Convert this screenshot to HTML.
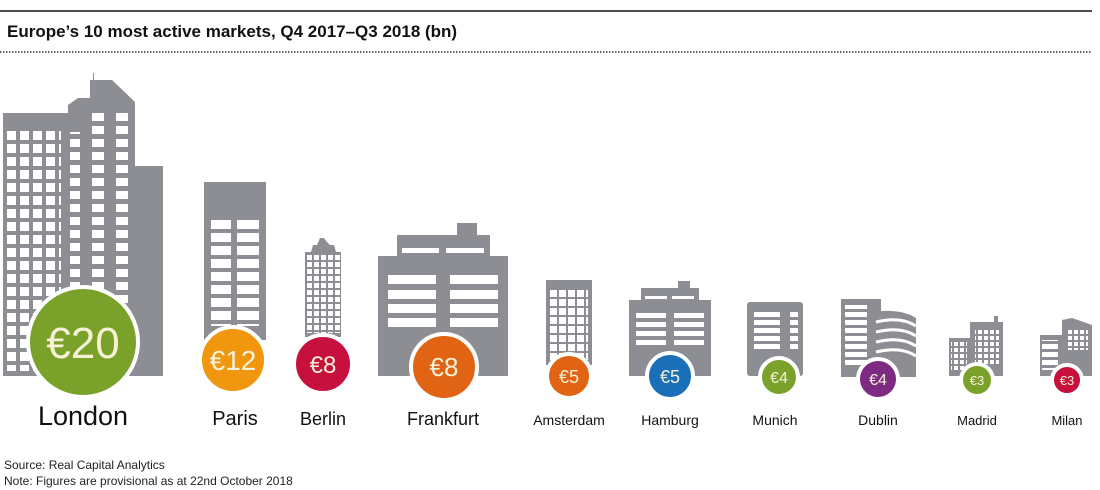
<!DOCTYPE html>
<html><head><meta charset="utf-8"><style>
html,body{margin:0;padding:0;background:#fff;}
svg{display:block;font-family:"Liberation Sans",sans-serif;}
</style></head><body>
<svg width="1100" height="490" viewBox="0 0 1100 490" xmlns="http://www.w3.org/2000/svg">
<defs>
<pattern id="wl" x="7" y="118" width="13" height="13" patternUnits="userSpaceOnUse"><rect width="9" height="9" fill="#fff"/></pattern>
<pattern id="wt" x="0" y="113" width="14" height="13" patternUnits="userSpaceOnUse"><rect width="14" height="8" fill="#fff"/></pattern>
<pattern id="wp" x="0" y="220" width="10" height="13" patternUnits="userSpaceOnUse"><rect width="10" height="9" fill="#fff"/></pattern>
<pattern id="wb" x="307" y="255" width="7" height="7" patternUnits="userSpaceOnUse"><rect width="5" height="5" fill="#fff"/></pattern>
<pattern id="wa" x="550" y="290" width="9" height="9" patternUnits="userSpaceOnUse"><rect width="7" height="7" fill="#fff"/></pattern>
<pattern id="ws" x="0" y="0" width="6" height="6" patternUnits="userSpaceOnUse"><rect width="4" height="4" fill="#fff"/></pattern>
<pattern id="wr" x="0" y="0" width="10" height="8" patternUnits="userSpaceOnUse"><rect width="10" height="5" fill="#fff"/></pattern>
</defs>
<line x1="0" y1="11" x2="1092" y2="11" stroke="#111" stroke-width="1.5"/>
<text x="7" y="37" font-size="17" font-weight="bold" fill="#111">Europe’s 10 most active markets, Q4 2017–Q3 2018 (bn)</text>
<line x1="0" y1="52" x2="1092" y2="52" stroke="#333" stroke-width="1.5" stroke-dasharray="1.5 1.5"/>

<g fill="#8c8e93">
<!-- London -->
<rect x="3" y="113" width="66" height="263"/>
<polygon points="68,376 68,105 78,98 90,98 90,80 112,80 135,102 135,376"/>
<rect x="93" y="73" width="1" height="8"/>
<rect x="135" y="166" width="28" height="210"/>
<!-- Paris -->
<rect x="204" y="182" width="62" height="158"/>
<!-- Berlin -->
<polygon points="305,337 305,252 311,252 313,245 317,245 320,238 324,238 326,241 330,245 334,245 336,252 341,252 341,337"/>
<!-- Frankfurt -->
<rect x="378" y="256" width="130" height="120"/>
<rect x="397" y="235" width="93" height="22"/>
<rect x="457" y="223" width="20" height="13"/>
<!-- Amsterdam -->
<rect x="546" y="280" width="46" height="85"/>
<!-- Hamburg -->
<rect x="629" y="300" width="82" height="76"/>
<rect x="641" y="288" width="58" height="13"/>
<rect x="678" y="281" width="12" height="8"/>
<!-- Munich -->
<rect x="747" y="302" width="56" height="74" rx="3"/>
<!-- Dublin -->
<rect x="841" y="299" width="40" height="78"/>
<path d="M872 312 Q900 308 916 318 L916 377 L872 377Z"/>
<!-- Madrid -->
<rect x="949" y="338" width="22" height="38"/>
<rect x="970" y="322" width="33" height="54"/>
<rect x="994" y="316" width="4" height="6"/>
<!-- Milan -->
<rect x="1040" y="335" width="22" height="41"/>
<polygon points="1062,376 1062,320 1072,318 1092,325 1092,376"/>
</g>
<!-- windows -->
<rect x="7" y="131" width="54" height="240" fill="url(#wl)"/>
<rect x="92" y="113" width="12" height="240" fill="url(#wt)"/>
<rect x="116" y="113" width="12" height="240" fill="url(#wt)"/>
<rect x="70" y="132" width="10" height="200" fill="url(#wt)"/>
<rect x="211" y="220" width="20" height="106" fill="url(#wp)"/>
<rect x="237" y="220" width="22" height="106" fill="url(#wp)"/>
<rect x="307" y="255" width="33" height="78" fill="url(#wb)"/>
<rect x="402" y="248" width="37" height="5" fill="#fff"/><rect x="446" y="248" width="38" height="5" fill="#fff"/>
<g fill="#fff"><rect x="388" y="275" width="48" height="9"/><rect x="450" y="275" width="48" height="9"/>
<rect x="388" y="290" width="48" height="9"/><rect x="450" y="290" width="48" height="9"/>
<rect x="388" y="304" width="48" height="9"/><rect x="450" y="304" width="48" height="9"/>
<rect x="388" y="318" width="48" height="9"/><rect x="450" y="318" width="48" height="9"/></g>
<rect x="550" y="290" width="38" height="70" fill="url(#wa)"/>
<g fill="#fff"><rect x="645" y="296" width="22" height="3"/><rect x="672" y="296" width="22" height="3"/>
<rect x="636" y="313" width="30" height="5"/><rect x="674" y="313" width="30" height="5"/>
<rect x="636" y="322" width="30" height="5"/><rect x="674" y="322" width="30" height="5"/>
<rect x="636" y="331" width="30" height="5"/><rect x="674" y="331" width="30" height="5"/>
<rect x="636" y="340" width="30" height="5"/><rect x="674" y="340" width="30" height="5"/></g>
<rect x="754" y="312" width="26" height="40" fill="url(#wr)"/>
<rect x="790" y="312" width="8" height="40" fill="url(#wr)"/>
<rect x="845" y="305" width="22" height="60" fill="url(#wr)"/>
<g fill="none" stroke="#fff" stroke-width="3"><path d="M876 322 Q900 316 916 326"/><path d="M876 332 Q900 326 916 336"/><path d="M876 342 Q900 336 916 346"/><path d="M876 352 Q900 346 916 356"/></g>
<rect x="975" y="328" width="24" height="36" fill="url(#ws)"/>
<rect x="951" y="341" width="16" height="30" fill="url(#ws)"/>
<rect x="1068" y="328" width="20" height="22" fill="url(#ws)"/>
<rect x="1042" y="340" width="16" height="30" fill="url(#wr)"/>

<!-- circles -->
<g stroke="#fff" stroke-width="4">
<circle cx="83" cy="342" r="55" fill="#7aa12a"/>
<circle cx="233" cy="360" r="33" fill="#f0960f"/>
<circle cx="323" cy="364" r="29" fill="#c8103e"/>
<circle cx="444" cy="367" r="33" fill="#e06414"/>
<circle cx="569" cy="376" r="22" fill="#e06414"/>
<circle cx="670" cy="376" r="23" fill="#1a70b8"/>
<circle cx="779" cy="377" r="19" fill="#7aa12a"/>
<circle cx="878" cy="379" r="20" fill="#7d2a82"/>
<circle cx="977" cy="380" r="16" fill="#7aa12a"/>
<circle cx="1067" cy="380" r="15" fill="#c8103e"/>
</g>
<g fill="#f6f2d8" text-anchor="middle">
<text x="83" y="358" font-size="44">€20</text>
<text x="233" y="370" font-size="28">€12</text>
<text x="323" y="373" font-size="24">€8</text>
<text x="444" y="376" font-size="26">€8</text>
<text x="569" y="383" font-size="18">€5</text>
<text x="670" y="383" font-size="18">€5</text>
<text x="779" y="383" font-size="16">€4</text>
<text x="878" y="385" font-size="16">€4</text>
<text x="977" y="385" font-size="13">€3</text>
<text x="1067" y="385" font-size="13">€3</text>
</g>
<g fill="#111" text-anchor="middle">
<text x="83" y="425" font-size="27">London</text>
<text x="235" y="425" font-size="20">Paris</text>
<text x="323" y="425" font-size="18">Berlin</text>
<text x="443" y="425" font-size="18">Frankfurt</text>
<text x="569" y="425" font-size="14">Amsterdam</text>
<text x="670" y="425" font-size="14">Hamburg</text>
<text x="775" y="425" font-size="14">Munich</text>
<text x="878" y="425" font-size="14">Dublin</text>
<text x="977" y="425" font-size="13">Madrid</text>
<text x="1067" y="425" font-size="13">Milan</text>
</g>
<text x="4" y="469" font-size="12" fill="#222">Source: Real Capital Analytics</text>
<text x="4" y="485" font-size="12" fill="#222">Note: Figures are provisional as at 22nd October 2018</text>
</svg>
</body></html>
